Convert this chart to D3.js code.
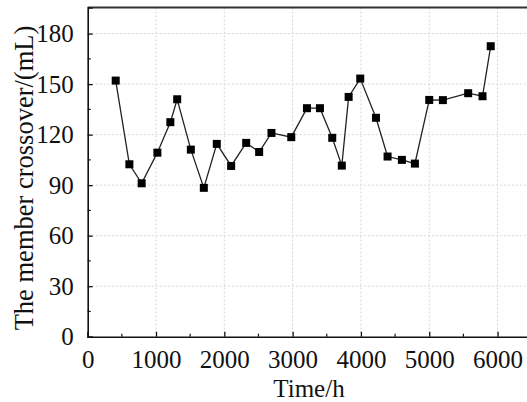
<!DOCTYPE html>
<html>
<head>
<meta charset="utf-8">
<script src="https://cdn.jsdelivr.net/npm/d3@7"></script>
<style>
html,body{margin:0;padding:0;background:#fff;overflow:hidden;}
svg{display:block;}
text{font-family:"Liberation Serif","DejaVu Serif",serif;fill:#111;}
</style>
</head>
<body>
<svg id="chart" width="527" height="402"></svg>
<script>
const timeHours = [410,610,790,1020,1210,1310,1510,1700,1890,2100,2320,2510,2690,2980,3210,3400,3580,3720,3820,3990,4220,4390,4600,4790,5000,5200,5570,5780,5900];
const crossover = [152.1,102.4,91.1,109.3,127.4,141,111.1,88.4,114.5,101.4,115.1,109.7,121,118.5,135.7,135.7,118.1,101.6,142.4,153.3,130,107,105,102.8,140.6,140.5,144.6,142.8,172.5];
const xTicks = [0,1000,2000,3000,4000,5000,6000];
const xMinorTicks = [500,1500,2500,3500,4500,5500];
const yTicks = [0,30,60,90,120,150,180];
const yMinorTicks = [15,45,75,105,135,165];
const xTitle = "Time/h";
const yTitle = "The member crossover/(mL)";

(function(){
const svg = d3.select("#chart");
const pLeft = 87.7, pRight = 531.7, pTop = 7.5, pBottom = 336.7;
const x = d3.scaleLinear().domain([0,6500]).range([pLeft,pRight]);
const y = d3.scaleLinear().domain([0,195.5]).range([pBottom,pTop]);

// grid
const grid = svg.append("g");
grid.selectAll("line.gx").data(xTicks.slice(1)).join("line")
  .attr("x1",d=>x(d)).attr("x2",d=>x(d)).attr("y1",pTop).attr("y2",pBottom)
  .attr("stroke","#d6d6d6").attr("stroke-width",1).attr("stroke-dasharray","2,2");
grid.selectAll("line.gy").data(yTicks.slice(1)).join("line")
  .attr("y1",d=>y(d)).attr("y2",d=>y(d)).attr("x1",pLeft).attr("x2",pRight)
  .attr("stroke","#d6d6d6").attr("stroke-width",1).attr("stroke-dasharray","2,2");

// top border
svg.append("line").attr("x1",pLeft).attr("x2",pRight).attr("y1",pTop).attr("y2",pTop)
  .attr("stroke","#333").attr("stroke-width",1.8);

// x axis
const xAxis = svg.append("g").attr("transform",`translate(0,${pBottom})`)
  .call(d3.axisBottom(x).tickValues(xTicks).tickSize(-5).tickPadding(14).tickFormat(d3.format("d")));
xAxis.select(".domain").attr("stroke","#111").attr("stroke-width",1.6);
xAxis.selectAll(".tick line").attr("stroke","#111").attr("stroke-width",1.3);
xAxis.selectAll("text").attr("font-size",25).attr("fill","#111")
  .style("font-family","'Liberation Serif',serif");
svg.append("g").selectAll("line").data(xMinorTicks).join("line")
  .attr("x1",d=>x(d)).attr("x2",d=>x(d)).attr("y1",pBottom).attr("y2",pBottom-3)
  .attr("stroke","#111").attr("stroke-width",1.2);

// y axis
const yAxis = svg.append("g").attr("transform",`translate(${pLeft},0)`)
  .call(d3.axisLeft(y).tickValues(yTicks).tickSize(-5).tickPadding(14));
yAxis.select(".domain").attr("stroke","#111").attr("stroke-width",1.6);
yAxis.selectAll(".tick line").attr("stroke","#111").attr("stroke-width",1.3);
yAxis.selectAll("text").attr("font-size",25).attr("fill","#111")
  .style("font-family","'Liberation Serif',serif");
svg.append("g").selectAll("line").data(yMinorTicks).join("line")
  .attr("y1",d=>y(d)).attr("y2",d=>y(d)).attr("x1",pLeft).attr("x2",pLeft+3)
  .attr("stroke","#111").attr("stroke-width",1.2);

// line
const pts = timeHours.map((t,i)=>[t,crossover[i]]);
svg.append("path").datum(pts)
  .attr("fill","none").attr("stroke","#222").attr("stroke-width",1.3)
  .attr("d",d3.line().x(d=>x(d[0])).y(d=>y(d[1])));
const ms = 8;
svg.append("g").selectAll("rect").data(pts).join("rect")
  .attr("x",d=>x(d[0])-ms/2).attr("y",d=>y(d[1])-ms/2)
  .attr("width",ms).attr("height",ms).attr("fill","#000");

// titles
svg.append("text").attr("x",309).attr("y",397).attr("text-anchor","middle")
  .attr("font-size",25).text(xTitle);
svg.append("text").attr("transform","translate(33,178) rotate(-90)")
  .attr("text-anchor","middle").attr("font-size",26.5).text(yTitle);
})();
</script>
</body>
</html>
